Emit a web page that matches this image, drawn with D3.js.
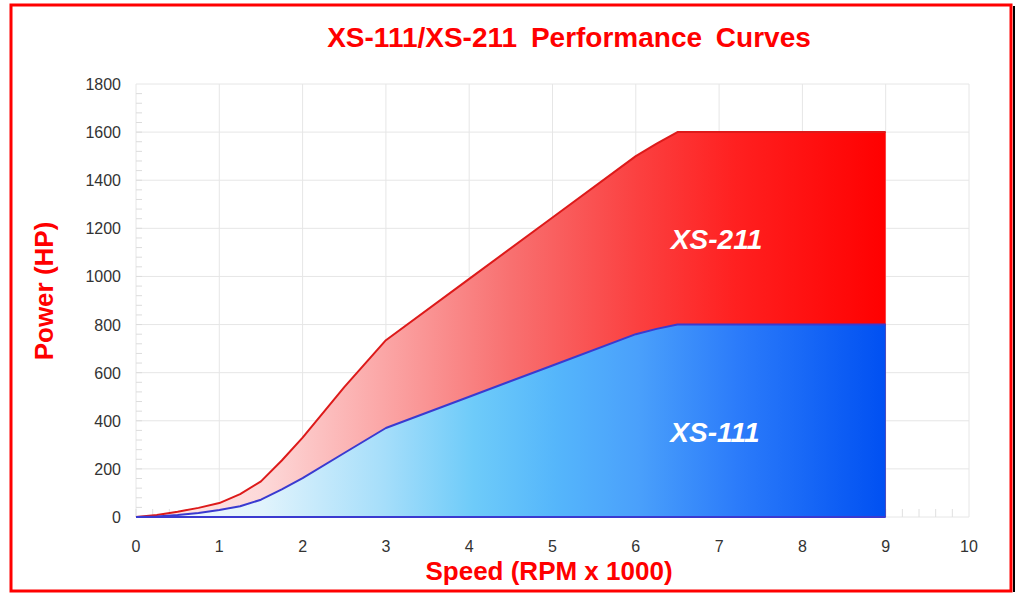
<!DOCTYPE html>
<html>
<head>
	<title>XS-111/XS-211 Performance Curves</title>
	<script src="https://d3js.org/d3.v7.min.js"></script>
	<style>
	body { margin: 0; background: #fff; }
	text { font-family: "Liberation Sans", Arial, sans-serif; }
	</style>
</head>
<body>
<script type="text/javascript">

// data
const speed  = [0, 0.25, 0.5, 0.75, 1, 1.25, 1.5, 1.75, 2, 2.5, 3, 4, 5, 6, 6.25, 6.5, 9]
const xs211  = [0, 8, 22, 38, 58, 95, 148, 235, 330, 540, 735, 990, 1245, 1500, 1552, 1600, 1600]
const xs111  = [0, 2, 8, 17, 29, 45, 72, 115, 162, 266, 370, 500, 630, 760, 782, 800, 800]
const xTicks = [0, 1, 2, 3, 4, 5, 6, 7, 8, 9, 10]
const yTicks = [0, 200, 400, 600, 800, 1000, 1200, 1400, 1600, 1800]

const width = 1018
const height = 594

const svg = d3.select("body").append("svg")
		.attr("width", width)
		.attr("height", height)

const x = d3.scaleLinear().domain([0, 10]).range([136, 969])
const y = d3.scaleLinear().domain([0, 1800]).range([517, 84])

// frame
svg.append("line")
	.attr("x1", 1014).attr("x2", 1014).attr("y1", 6).attr("y2", 592)
	.attr("stroke", "#000").attr("stroke-width", 2)
svg.append("rect")
	.attr("x", 11).attr("y", 5).attr("width", 1000).attr("height", 586)
	.attr("fill", "none").attr("stroke", "#ff0000").attr("stroke-width", 3)

// gradients
const defs = svg.append("defs")
function grad(id, stops) {
	const g = defs.append("linearGradient").attr("id", id)
		.attr("gradientUnits", "userSpaceOnUse")
		.attr("x1", x(0)).attr("x2", x(9)).attr("y1", 0).attr("y2", 0)
	stops.forEach(s => g.append("stop").attr("offset", s[0]).attr("stop-color", s[1]))
}
grad("redFill", [[0, "#ffeaea"], [0.17, "#fdd8d8"], [0.33, "#fba6a6"], [0.5, "#f87070"], [0.67, "#fb4040"], [0.8, "#ff2020"], [1, "#ff0000"]])
grad("blueFill", [[0, "#f4fbfe"], [0.17, "#e0f3fc"], [0.33, "#a6defa"], [0.45, "#6ecbf9"], [0.56, "#55b6fb"], [0.67, "#4aa0fb"], [0.8, "#2c7cfa"], [1, "#0050f2"]])

// grid
svg.append("g").selectAll("line").data(yTicks).enter().append("line")
	.attr("x1", x(0)).attr("x2", x(10))
	.attr("y1", d => y(d)).attr("y2", d => y(d))
	.attr("stroke", "#e6e6e6").attr("stroke-width", 1)
svg.append("g").selectAll("line").data(xTicks).enter().append("line")
	.attr("x1", d => x(d)).attr("x2", d => x(d))
	.attr("y1", y(0)).attr("y2", y(1800))
	.attr("stroke", "#e6e6e6").attr("stroke-width", 1)

// minor ticks
svg.append("g").selectAll("line").data(d3.range(0, 1800, 40)).enter().append("line")
	.attr("x1", x(0)).attr("x2", x(0) + 6)
	.attr("y1", d => y(d)).attr("y2", d => y(d))
	.attr("stroke", "#dcdcdc")
svg.append("g").selectAll("line").data(d3.range(0, 10, 0.2)).enter().append("line")
	.attr("x1", d => x(d)).attr("x2", d => x(d))
	.attr("y1", y(0)).attr("y2", y(0) - 8)
	.attr("stroke", "#e0e0e0")

// areas
const pts = speed.map((s, i) => ({s: s, a: xs211[i], b: xs111[i]}))

svg.append("path").datum(pts)
	.attr("fill", "url(#redFill)")
	.attr("d", d3.area().x(d => x(d.s)).y0(y(0)).y1(d => y(d.a)))
svg.append("path").datum(pts)
	.attr("fill", "url(#blueFill)")
	.attr("d", d3.area().x(d => x(d.s)).y0(y(0)).y1(d => y(d.b)))

svg.append("path").datum(pts)
	.attr("fill", "none").attr("stroke", "#dd1a1a").attr("stroke-width", 2)
	.attr("stroke-linejoin", "round")
	.attr("d", d3.line().x(d => x(d.s)).y(d => y(d.a)))
svg.append("path").datum(pts)
	.attr("fill", "none").attr("stroke", "#3a3ad0").attr("stroke-width", 2)
	.attr("stroke-linejoin", "round")
	.attr("d", d3.line().x(d => x(d.s)).y(d => y(d.b)))
svg.append("line")
	.attr("x1", x(0)).attr("x2", x(9)).attr("y1", y(0)).attr("y2", y(0))
	.attr("stroke", "#3a3ad0").attr("stroke-width", 2)

// tick labels
svg.append("g").selectAll("text").data(yTicks).enter().append("text")
	.attr("x", 121).attr("y", d => y(d) + 6)
	.attr("text-anchor", "end").attr("font-size", 16).attr("fill", "#333")
	.text(d => d)
svg.append("g").selectAll("text").data(xTicks).enter().append("text")
	.attr("x", d => x(d)).attr("y", 552)
	.attr("text-anchor", "middle").attr("font-size", 16).attr("fill", "#333")
	.text(d => d)

// series labels
svg.append("text").attr("x", x(6.97)).attr("y", 249)
	.attr("text-anchor", "middle").attr("font-size", 28).attr("font-weight", "bold")
	.attr("font-style", "italic").attr("fill", "#fff").text("XS-211")
svg.append("text").attr("x", x(6.95)).attr("y", 442)
	.attr("text-anchor", "middle").attr("font-size", 28).attr("font-weight", "bold")
	.attr("font-style", "italic").attr("fill", "#fff").text("XS-111")

// titles
svg.append("text").attr("x", 569).attr("y", 47)
	.attr("text-anchor", "middle").attr("font-size", 28).attr("font-weight", "bold")
	.attr("word-spacing", 6).attr("fill", "#ff0000")
	.text("XS-111/XS-211 Performance Curves")
svg.append("text").attr("x", 549).attr("y", 580)
	.attr("text-anchor", "middle").attr("font-size", 26).attr("font-weight", "bold")
	.attr("fill", "#ff0000").text("Speed (RPM x 1000)")
svg.append("text").attr("transform", "translate(53,291) rotate(-90)")
	.attr("text-anchor", "middle").attr("font-size", 26).attr("font-weight", "bold")
	.attr("fill", "#ff0000").text("Power (HP)")

</script>
</body>
</html>
